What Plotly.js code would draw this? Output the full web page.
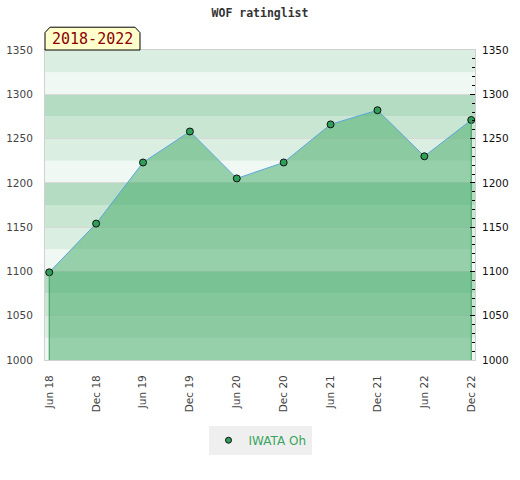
<!DOCTYPE html>
<html>
<head>
<meta charset="utf-8">
<script src="https://cdn.plot.ly/plotly-3.0.1.min.js"></script>
<style>html,body{margin:0;padding:0;background:#fff;}#chart{width:520px;height:480px;}</style>
</head>
<body>
<div id="chart"></div>
<script>
// ---- data ----
const periods = ['Jun 18','Dec 18','Jun 19','Dec 19','Jun 20','Dec 20','Jun 21','Dec 21','Jun 22','Dec 22'];
const ratings = [1099, 1154, 1223, 1258, 1205, 1223, 1266, 1282, 1230, 1271];
const playerName = 'IWATA Oh';
const chartTitle = 'WOF ratinglist';
const periodLabel = '2018-2022';
const yMin = 1000, yMax = 1350, yStep = 50;

// ---- style ----
const bandColors = ['#eff8f2', '#daeee1', '#c8e6d2', '#b3dcc2'];
const bandSize = 25;
const markerStyle = {color:'#2f9e58', size:7, line:{color:'#111', width:1}};

const shapes = [];
for (let v = yMin, i = 0; v < yMax; v += bandSize, i++) {
  shapes.push({type:'rect', xref:'paper', yref:'y', x0:0, x1:1, y0:v, y1:v+bandSize,
    fillcolor: bandColors[i % 4], line:{width:0}, layer:'below'});
}
// tab with clipped top corners
shapes.push({type:'path', xref:'paper', yref:'paper',
  path:'M 0,1 L 0,1.056 L 0.0116,1.0735 L 0.2093,1.0735 L 0.2209,1.056 L 0.2209,1 Z',
  fillcolor:'#ffffcc', line:{color:'#000', width:1}, layer:'above'});

const n = periods.length;
const traces = [
  {
    x: periods, y: ratings, type:'scatter', mode:'lines+markers', name: playerName,
    fill:'tozeroy', fillcolor:'rgba(62,168,100,0.5)', showlegend:false,
    line:{color:'#5da7dc', width:1},
    marker: markerStyle,
    hoverinfo:'x+y'
  },
  {
    x: [periods[0], periods[0], null, periods[n-1], periods[n-1]],
    y: [ratings[0], yMin, null, ratings[n-1], yMin],
    type:'scatter', mode:'lines', showlegend:false, yaxis:'y2',
    line:{color:'#3a9a5a', width:1}, hoverinfo:'skip'
  },
  {
    x: [null], y: [null], type:'scatter', mode:'markers', name: playerName,
    marker: {color:'#2f9e58', size:6, line:{color:'#111', width:1}}, showlegend:true, hoverinfo:'skip'
  }
];

const layout = {
  width:520, height:480,
  margin:{l:45, r:45, t:50, b:120},
  paper_bgcolor:'#ffffff', plot_bgcolor:'#ffffff',
  font:{family:'DejaVu Sans', size:10.5, color:'#444'},
  title:{text: chartTitle, x:0.5, xanchor:'center', y:0.972, yanchor:'middle', yref:'container',
    font:{family:'DejaVu Sans Mono', size:11.5, color:'#333', weight:'bold'}},
  xaxis:{
    type:'category', range:[-0.09, n - 1 + 0.08],
    tickangle:-90, showgrid:false, zeroline:false,
    showline:true, mirror:true, linecolor:'#d0d0d0', linewidth:1,
    ticks:'', ticklabelstandoff:10,
    tickfont:{family:'DejaVu Sans', size:10.5, color:'#444'}
  },
  yaxis:{
    range:[yMin, yMax], dtick:yStep, tick0:yMin,
    showgrid:true, gridcolor:'#d8d8d8', gridwidth:1, zeroline:false,
    showline:true, mirror:true, linecolor:'#d0d0d0', linewidth:1,
    ticks:'', ticklabelstandoff:9,
    tickfont:{family:'DejaVu Sans', size:10.5, color:'#444'}
  },
  yaxis2:{
    overlaying:'y', side:'right', range:[yMin, yMax], dtick:yStep, tick0:yMin,
    showgrid:false, zeroline:false, showline:false,
    ticks:'inside', ticklen:5, tickcolor:'#000', tickwidth:1, ticklabelstandoff:6,
    minor:{dtick:10, ticks:'inside', ticklen:3, tickcolor:'#000', tickwidth:1, showgrid:false},
    tickfont:{family:'DejaVu Sans', size:10.5, color:'#111'}
  },
  showlegend:true,
  legend:{orientation:'h', x:0.5, xanchor:'center', y:-0.212, yanchor:'top',
    bgcolor:'#efefef', borderwidth:0, itemwidth:30,
    font:{family:'DejaVu Sans', size:12, color:'#3aa55e'}},
  shapes: shapes,
  annotations:[{
    xref:'paper', yref:'paper', x:0.1105, y:1.0355, xanchor:'center', yanchor:'middle',
    text: periodLabel, showarrow:false,
    font:{family:'DejaVu Sans Mono', size:15, color:'#8b0000'}
  }]
};

Plotly.newPlot('chart', traces, layout, {displayModeBar:false, staticPlot:true});
</script>
</body>
</html>
